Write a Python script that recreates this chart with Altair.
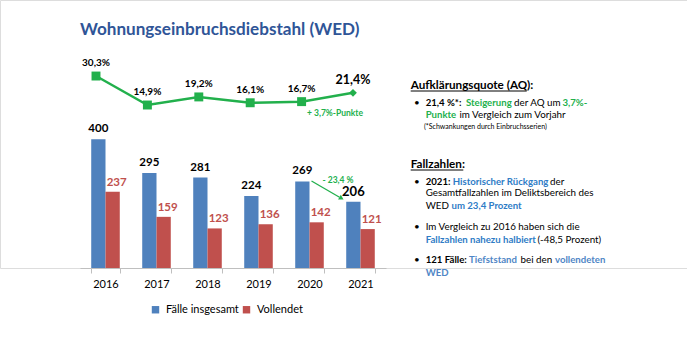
import altair as alt
import pandas as pd

years = ["2016", "2017", "2018", "2019", "2020", "2021"]
faelle = [400, 295, 281, 224, 269, 206]
vollendet = [237, 159, 123, 136, 142, 121]
aq = [30.3, 14.9, 19.2, 16.1, 16.7, 21.4]
aq_labels = ["30,3%", "14,9%", "19,2%", "16,1%", "16,7%", "21,4%"]
series = ["Fälle insgesamt", "Vollendet"]

title_text = "Wohnungseinbruchsdiebstahl (WED)"
aq_change = "+ 3,7%-Punkte"
case_change = "- 23,4 %"

BLUE = "#4F81BD"
RED = "#C0504D"
GREEN = "#22B04C"
TBLUE = "#2E7CC6"
LBLUE = "#4F86C6"
TITLE = "#2F5597"
FONT = "Lato"

bars_df = pd.DataFrame({
    "Jahr": years * 2,
    "Serie": [series[0]] * 6 + [series[1]] * 6,
    "Wert": faelle + vollendet,
})
line_df = pd.DataFrame({"Jahr": years, "AQ": aq, "Label": aq_labels})

# ---------------- bar chart -----------------
xband = alt.X(
    "Jahr:N",
    sort=years,
    scale=alt.Scale(range=[80, 386], paddingInner=0.44, paddingOuter=0.22),
    axis=alt.Axis(title=None, labelAngle=0, domainColor="#BFBFBF", tickColor="#BFBFBF",
                  tickBand="extent", tickSize=5, labelFontSize=11, labelFont=FONT,
                  labelColor="#000000", labelPadding=5, domainWidth=1),
)
xoff = alt.XOffset("Serie:N", scale=alt.Scale(domain=series, paddingInner=0, paddingOuter=0))
ybar = alt.Y("Wert:Q", scale=alt.Scale(domain=[0, 833], nice=False, zero=True), axis=None)

bars = alt.Chart(bars_df).mark_bar().encode(
    x=xband, xOffset=xoff, y=ybar,
    color=alt.Color("Serie:N", scale=alt.Scale(domain=series, range=[BLUE, RED]),
                    legend=alt.Legend(title=None, orient="none", legendX=150, legendY=304,
                                      direction="horizontal", symbolType="square",
                                      symbolSize=55, symbolStrokeWidth=0, labelFont=FONT,
                                      labelFontSize=11, labelColor="#000000",
                                      columnPadding=2, labelOffset=5)),
)

lab_total = alt.Chart(bars_df).transform_filter(f"datum.Serie == '{series[0]}'").mark_text(
    font=FONT, fontWeight="bold", dy=-10, baseline="middle", color="#000000"
).encode(
    x=xband, xOffset=xoff, y=ybar, text="Wert:Q",
    size=alt.condition("datum.Jahr == '2021'", alt.value(13), alt.value(11.5)),
)
lab_voll = alt.Chart(bars_df).transform_filter(f"datum.Serie == '{series[1]}'").mark_text(
    font=FONT, fontWeight="bold", dy=-9, dx=4, baseline="middle", color=RED, fontSize=11.5
).encode(x=xband, xOffset=xoff, y=ybar, text="Wert:Q")

bar_group = alt.layer(bars, lab_total, lab_voll)

# ---------------- line chart -----------------
xline = alt.X("Jahr:N", sort=years, scale=alt.Scale(type="point", range=[96, 353], padding=0), axis=None)
yline = alt.Y("AQ:Q", scale=alt.Scale(domain=[-71.7, 70.7], nice=False, zero=False), axis=None)

line = alt.Chart(line_df).mark_line(color=GREEN, strokeWidth=2.5).encode(x=xline, y=yline)
pts = alt.Chart(line_df).mark_point(filled=True, opacity=1, color=GREEN).encode(
    x=xline, y=yline,
    shape=alt.condition("datum.Jahr == '2021'", alt.value("diamond"), alt.value("square")),
    size=alt.condition("datum.Jahr == '2021'", alt.value(60), alt.value(80)),
)
line_lab = alt.Chart(line_df).mark_text(font=FONT, fontWeight="bold", dy=-13, color="#000000").encode(
    x=xline, y=yline, text="Label:N",
    size=alt.condition("datum.Jahr == '2021'", alt.value(12.5), alt.value(10)),
)
line_group = alt.layer(line, pts, line_lab)

# ---------------- annotations -----------------
ann_df = pd.DataFrame({"t": [title_text]})
title = alt.Chart(ann_df).mark_text(font=FONT, fontWeight="bold", fontSize=17.1, color=TITLE,
                                    align="left", baseline="middle").encode(
    x=alt.value(80), y=alt.value(30), text="t:N")

aq_ann = alt.Chart(pd.DataFrame({"t": [aq_change]})).mark_text(
    font=FONT, fontWeight="bold", fontSize=8.5, color=GREEN, baseline="middle").encode(
    x=alt.value(335), y=alt.value(113), text="t:N")
case_ann = alt.Chart(pd.DataFrame({"t": [case_change]})).mark_text(
    font=FONT, fontWeight="bold", fontSize=8.5, color=GREEN, baseline="middle").encode(
    x=alt.value(338), y=alt.value(180), text="t:N")
arrow = alt.Chart(pd.DataFrame({"a": [0]})).mark_rule(color=GREEN, strokeWidth=1.3).encode(
    x=alt.value(311.5), x2=alt.value(339.5), y=alt.value(181), y2=alt.value(197.2))
head = alt.Chart(pd.DataFrame({"a": [0]})).mark_point(
    shape="triangle-right", filled=True, opacity=1, color=GREEN, size=30, angle=30).encode(
    x=alt.value(341.5), y=alt.value(198.4))

# ---------------- text panel -----------------
B = 9.6   # bold body size
R = 9.8   # regular body size
# (text, x, y, colour, weight, size)
segments = [
    ("Aufklärungsquote (AQ):", 410.7, 84.5, "#000000", "bold", 11.7),
    ("•", 414, 103, "#000000", "normal", R),
    ("21,4 %*:", 425.7, 103, "#000000", "bold", B),
    ("Steigerung", 466, 103, GREEN, "bold", B),
    ("der AQ um", 514, 103, "#000000", "normal", R),
    ("3,7%-", 562.5, 103, GREEN, "bold", B),
    ("Punkte", 425.7, 115, GREEN, "bold", B),
    ("im Vergleich zum Vorjahr", 459.5, 115, "#000000", "normal", R),
    ("(*Schwankungen durch Einbruchsserien)", 424, 126.7, "#000000", "normal", 7),
    ("Fallzahlen:", 410.7, 163.5, "#000000", "bold", 11.7),
    ("•", 414, 181.7, "#000000", "normal", R),
    ("2021:", 425.7, 181.7, "#000000", "bold", B),
    ("Historischer Rückgang", 452.7, 181.7, TBLUE, "bold", B),
    ("der", 550, 181.7, "#000000", "normal", R),
    ("Gesamtfallzahlen im Deliktsbereich des", 425.7, 193.3, "#000000", "normal", R),
    ("WED", 425.7, 205.7, "#000000", "normal", R),
    ("um 23,4 Prozent", 451.5, 205.7, TBLUE, "bold", B),
    ("•", 414, 227.3, "#000000", "normal", R),
    ("Im Vergleich zu 2016 haben sich die", 425.7, 227.3, "#000000", "normal", R),
    ("Fallzahlen nahezu halbiert", 425.7, 240, TBLUE, "bold", B),
    ("(-48,5 Prozent)", 537.5, 240, "#000000", "normal", R),
    ("•", 414, 260, "#000000", "normal", R),
    ("121 Fälle:", 425.7, 260, "#000000", "bold", B),
    ("Tiefststand", 469, 260, LBLUE, "bold", B),
    ("bei den", 520.5, 260, "#000000", "normal", R),
    ("vollendeten", 555, 260, LBLUE, "bold", B),
    ("WED", 425.7, 272.7, LBLUE, "bold", B),
]
seg_df = pd.DataFrame(segments, columns=["t", "x", "y", "c", "w", "s"])


def seg_layer(weight):
    return alt.Chart(seg_df).transform_filter(f"datum.w == '{weight}'").mark_text(
        font=FONT, fontWeight=weight, align="left", baseline="middle").encode(
        x=alt.X("x:Q", scale=None), y=alt.Y("y:Q", scale=None),
        color=alt.Color("c:N", scale=None), size=alt.Size("s:Q", scale=None), text="t:N")


underline_df = pd.DataFrame({"x1": [410.7, 410.7], "x2": [526.7, 463.3], "y": [91, 170]})
underlines = alt.Chart(underline_df).mark_rule(color="#000000", strokeWidth=1).encode(
    x=alt.X("x1:Q", scale=None), x2="x2:Q", y=alt.Y("y:Q", scale=None))

chart = alt.layer(
    bar_group, line_group, title, aq_ann, case_ann, arrow, head,
    seg_layer("bold"), seg_layer("normal"), underlines,
).resolve_scale(x="independent", y="independent", color="independent", size="independent", shape="independent").properties(
    width=687, height=268,
    autosize=alt.AutoSizeParams(type="none"),
    padding={"left": 0, "top": 0, "right": 0, "bottom": 80},
).configure_view(stroke=None).configure(background="#FFFFFF")

chart.save("out.html", embed_options={"renderer": "svg", "actions": False})
